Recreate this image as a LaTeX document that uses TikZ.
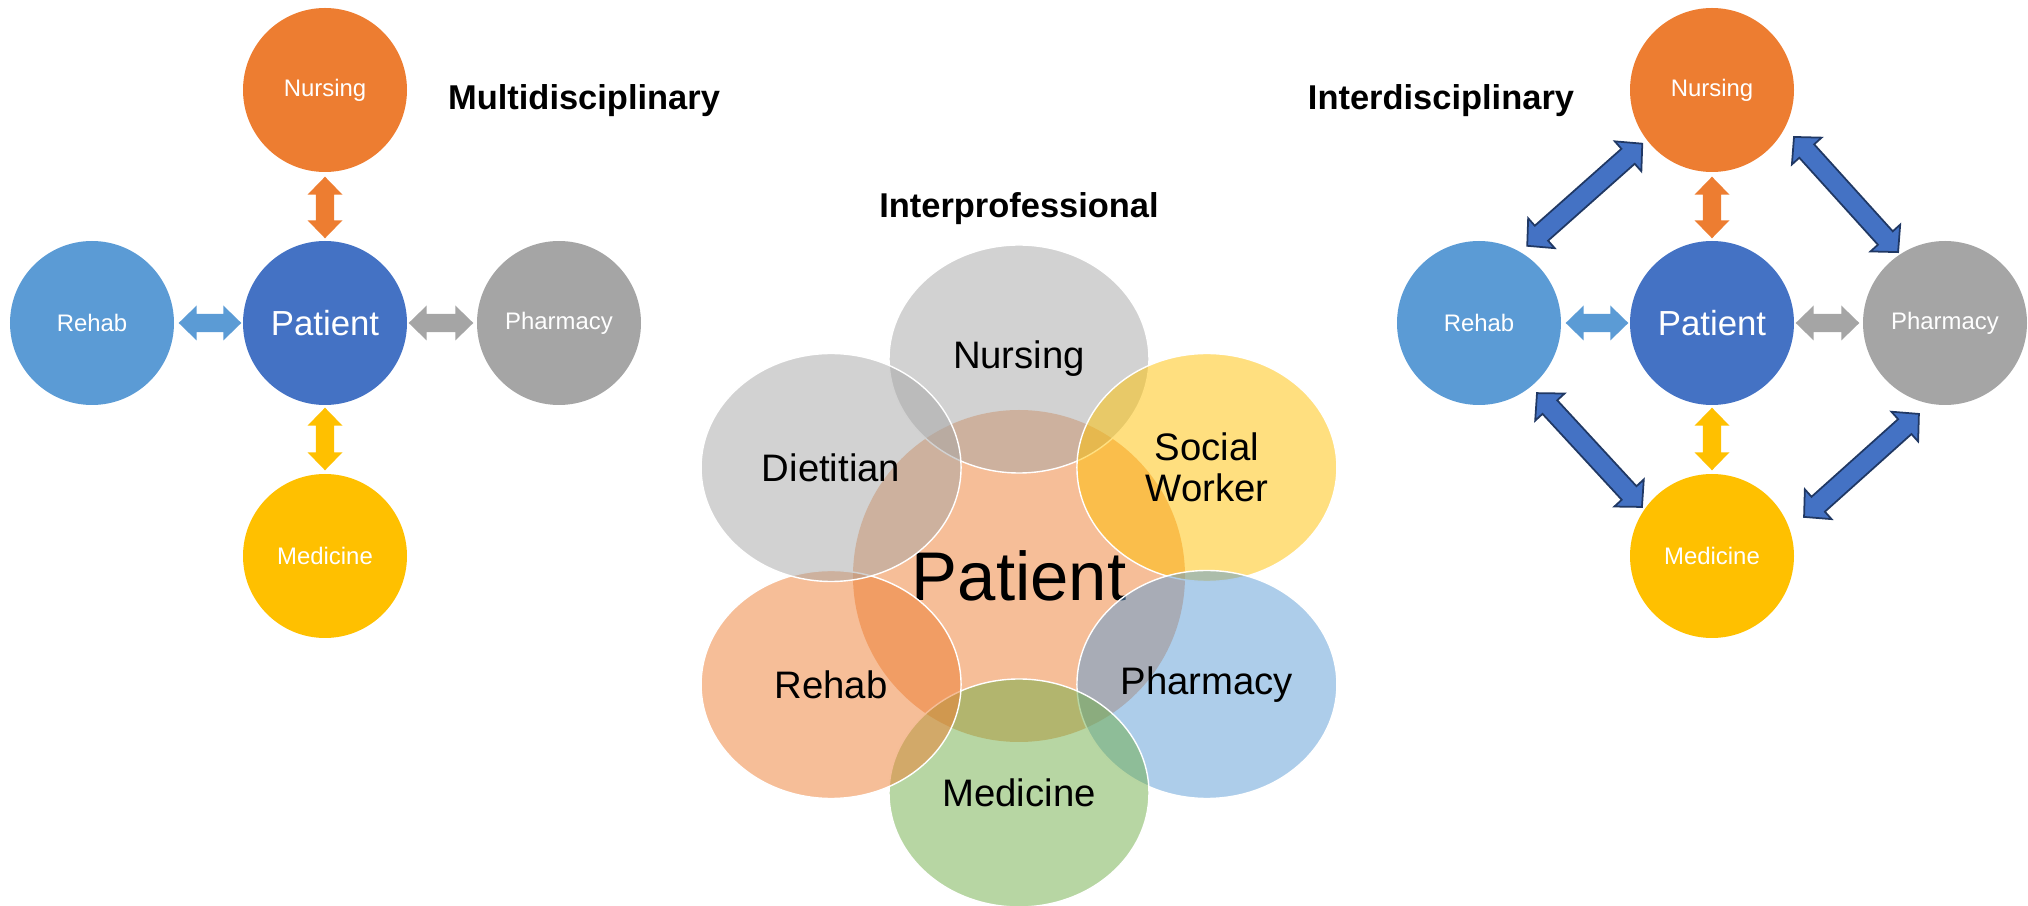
\documentclass[tikz,border=0pt]{standalone}
\usepackage{fontspec}
\setmainfont{Liberation Sans}
\usepackage{tikz}
\usetikzlibrary{shapes.geometric, calc}
\definecolor{orangeC}{RGB}{237, 125, 49}
\definecolor{blueC}{RGB}{68, 114, 196}
\definecolor{skyC}{RGB}{91, 155, 213}
\definecolor{greyC}{RGB}{165, 165, 165}
\definecolor{goldC}{RGB}{255, 192, 0}
\definecolor{greenC}{RGB}{112, 173, 71}
\definecolor{navyC}{RGB}{32, 56, 100}

% block arrow with a head at both ends: style, end a, end b, head length, head half width, shaft half width
\newcommand{\blockarrow}[6]{%
  \coordinate (ba-a) at (#2);
  \coordinate (ba-b) at (#3);
  \coordinate (ba-p) at ($(ba-a)!#4!(ba-b)$);
  \coordinate (ba-q) at ($(ba-b)!#4!(ba-a)$);
  \path[#1] (ba-a) -- ($(ba-p)!#5!90:(ba-b)$) -- ($(ba-p)!#6!90:(ba-b)$)
    -- ($(ba-q)!#6!-90:(ba-a)$) -- ($(ba-q)!#5!-90:(ba-a)$) -- (ba-b)
    -- ($(ba-q)!#5!90:(ba-a)$) -- ($(ba-q)!#6!90:(ba-a)$)
    -- ($(ba-p)!#6!-90:(ba-b)$) -- ($(ba-p)!#5!-90:(ba-b)$) -- cycle;
}
\newcommand{\shortarrow}[3]{\blockarrow{fill=#1}{#2}{#3}{0.18cm}{0.175cm}{0.092cm}}
\newcommand{\linkarrow}[2]{\blockarrow{fill=blueC, draw=navyC, line width=0.5pt, line join=miter}{#1}{#2}{0.19cm}{0.2cm}{0.1cm}}

\begin{document}
\begin{tikzpicture}[
    disc/.style={circle, minimum size=1.64cm, inner sep=0pt, text=white, font=\fontsize{6.8}{8}\selectfont},
    hub/.style={disc, fill=blueC, font=\fontsize{9.9}{12}\selectfont},
    petal/.style={ellipse, minimum width=2.6cm, minimum height=2.28cm, inner sep=0pt, draw=white, line width=0.4pt, fill opacity=0.5, text opacity=1, align=center, font=\fontsize{10.9}{11.7}\selectfont},
    title/.style={anchor=base, font=\bfseries\fontsize{9.8}{12}\selectfont}
]
\useasboundingbox (0, 0) rectangle (20.28, 9.06);

% Multidisciplinary (left)
\node[hub] (mpat) at (3.25, 5.83) {Patient};
\node[disc, fill=orangeC] (mnurs) at (3.25, 8.16) {Nursing};
\node[disc, fill=skyC] (mreh) at (0.92, 5.83) {Rehab};
\node[disc, fill=greyC] (mphar) at (5.59, 5.83) {Pharmacy};
\node[disc, fill=goldC] (mmed) at (3.25, 3.50) {Medicine};
\node[title] (mtitle) at (5.84, 7.965) {Multidisciplinary};

\shortarrow{orangeC}{$(mpat.north)!0.02cm!(mnurs.south)$}{$(mnurs.south)!0.04cm!(mpat.north)$}
\shortarrow{skyC}{$(mpat.west)!0.01cm!(mreh.east)$}{$(mreh.east)!0.04cm!(mpat.west)$}
\shortarrow{greyC}{$(mpat.east)!0.01cm!(mphar.west)$}{$(mphar.west)!0.03cm!(mpat.east)$}
\shortarrow{goldC}{$(mpat.south)!0.02cm!(mmed.north)$}{$(mmed.north)!0.03cm!(mpat.south)$}

% Interprofessional (middle)
\node[title] (ptitle) at (10.19, 6.88) {Interprofessional};
\node[circle, minimum size=3.32cm, inner sep=0pt, fill=orangeC, fill opacity=0.5, text opacity=1, font=\fontsize{19.6}{23}\selectfont] (ppat) at (10.19, 3.30) {Patient};
\node[petal, fill=greyC] (pnurs) at ($(ppat)+(90:2.17)$) {Nursing};
\node[petal, fill=goldC] (psoc) at ($(ppat)+(30:2.17)$) {Social\\Worker};
\node[petal, fill=skyC] (pphar) at ($(ppat)+(-30:2.17)$) {Pharmacy};
\node[petal, fill=greenC] (pmed) at ($(ppat)+(-90:2.17)$) {Medicine};
\node[petal, fill=orangeC] (preh) at ($(ppat)+(-150:2.17)$) {Rehab};
\node[petal, fill=greyC] (pdiet) at ($(ppat)+(150:2.17)$) {Dietitian};

% Interdisciplinary (right)
\node[title] (ititle) at (14.41, 7.965) {Interdisciplinary};
\node[hub] (ipat) at (17.12, 5.83) {Patient};
\node[disc, fill=orangeC] (inurs) at (17.12, 8.16) {Nursing};
\node[disc, fill=skyC] (ireh) at (14.79, 5.83) {Rehab};
\node[disc, fill=greyC] (iphar) at (19.45, 5.83) {Pharmacy};
\node[disc, fill=goldC] (imed) at (17.12, 3.50) {Medicine};

\shortarrow{orangeC}{$(ipat.north)!0.02cm!(inurs.south)$}{$(inurs.south)!0.04cm!(ipat.north)$}
\shortarrow{skyC}{$(ipat.west)!0.01cm!(ireh.east)$}{$(ireh.east)!0.04cm!(ipat.west)$}
\shortarrow{greyC}{$(ipat.east)!0.01cm!(iphar.west)$}{$(iphar.west)!0.03cm!(ipat.east)$}
\shortarrow{goldC}{$(ipat.south)!0.02cm!(imed.north)$}{$(imed.north)!0.03cm!(ipat.south)$}

% Links between the outer disciplines
\linkarrow{$(ireh)+(58:0.91)$}{$(inurs)+(217.6:0.88)$}
\linkarrow{$(inurs)+(-29.8:0.945)$}{$(iphar)+(123.5:0.85)$}
\linkarrow{$(ireh)+(-50.4:0.91)$}{$(imed)+(145:0.855)$}
\linkarrow{$(iphar)+(254:0.946)$}{$(imed)+(23:1.0)$}

\end{tikzpicture}
\end{document}
